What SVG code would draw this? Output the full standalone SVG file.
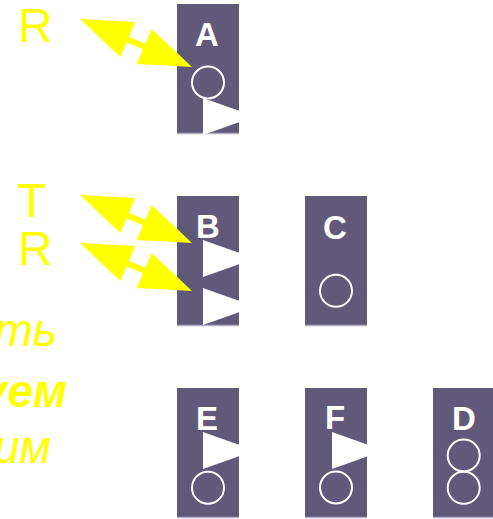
<svg xmlns="http://www.w3.org/2000/svg" width="493" height="519" viewBox="0 0 493 519">
<style>
.box{fill:#605979}
.edge{stroke:#B4AFC9;stroke-width:1.5}
.lbl{font-family:"Liberation Sans",Arial,sans-serif;font-weight:bold;font-size:33px;fill:#FFFFFF;text-anchor:middle}
.ring{fill:none;stroke:#FFFFFF;stroke-width:2}
.tri{fill:#FFFFFF}
.ylw{font-family:"Liberation Sans",Arial,sans-serif;font-size:48px;fill:#FFFF00}
.ital{font-family:"Liberation Sans",Arial,sans-serif;font-style:italic;font-size:46px;fill:#FFFF00;text-anchor:end}
.arr{fill:#FFFF00}
</style>
<defs>
<polygon id="tri" points="0,0 52,18.5 0,37"/>
<polygon id="arrow" points="80,19 135.3,22 129,36.7 145.4,43.7 151.7,29 192,67 136.7,64 143,49.3 126.6,42.3 120.3,57"/>
</defs>
<rect width="493" height="519" fill="#FFFFFF"/>

<g id="labels">
<text class="ylw" x="18" y="42">R</text>
<text class="ylw" x="17" y="217">T</text>
<text class="ylw" x="18" y="265">R</text>
<text class="ital" x="57" y="346">ть</text>
<text class="ital" x="67" y="407" font-weight="bold">уем</text>
<text class="ital" x="51" y="463">им</text>
</g>

<g id="node-A">
<rect class="box" x="177" y="4" width="62" height="130"/>
<line class="edge" x1="177" y1="133.5" x2="239" y2="133.5"/>
<text class="lbl" x="207" y="46">A</text>
<circle class="ring" cx="208" cy="82.5" r="16"/>
<use href="#tri" class="tri" x="203" y="98"/>
</g>

<g id="node-B">
<rect class="box" x="177" y="196" width="62" height="130"/>
<line class="edge" x1="177" y1="325.5" x2="239" y2="325.5"/>
<text class="lbl" x="208" y="238">B</text>
<use href="#tri" class="tri" x="203" y="240"/>
<use href="#tri" class="tri" x="203" y="288"/>
</g>

<g id="node-C">
<rect class="box" x="305" y="196" width="62" height="130"/>
<line class="edge" x1="305" y1="325.5" x2="367" y2="325.5"/>
<text class="lbl" x="335" y="239">C</text>
<circle class="ring" cx="336" cy="290.8" r="16"/>
</g>

<g id="node-E">
<rect class="box" x="177" y="388" width="62" height="130"/>
<line class="edge" x1="177" y1="517.5" x2="239" y2="517.5"/>
<text class="lbl" x="207" y="430">E</text>
<use href="#tri" class="tri" x="203" y="432"/>
<circle class="ring" cx="208" cy="487.7" r="16"/>
</g>

<g id="node-F">
<rect class="box" x="305" y="388" width="62" height="130"/>
<line class="edge" x1="305" y1="517.5" x2="367" y2="517.5"/>
<text class="lbl" x="335" y="429">F</text>
<use href="#tri" class="tri" x="332" y="432"/>
<circle class="ring" cx="336" cy="487.5" r="16"/>
</g>

<g id="node-D">
<rect class="box" x="433" y="388" width="62" height="130"/>
<line class="edge" x1="433" y1="517.5" x2="495" y2="517.5"/>
<text class="lbl" x="464" y="430">D</text>
<circle class="ring" cx="463.7" cy="455.5" r="16"/>
<circle class="ring" cx="463.7" cy="487.8" r="16"/>
</g>

<g id="connectors">
<use href="#arrow" class="arr"/>
<use href="#arrow" class="arr" y="176"/>
<use href="#arrow" class="arr" y="224"/>
</g>
</svg>
